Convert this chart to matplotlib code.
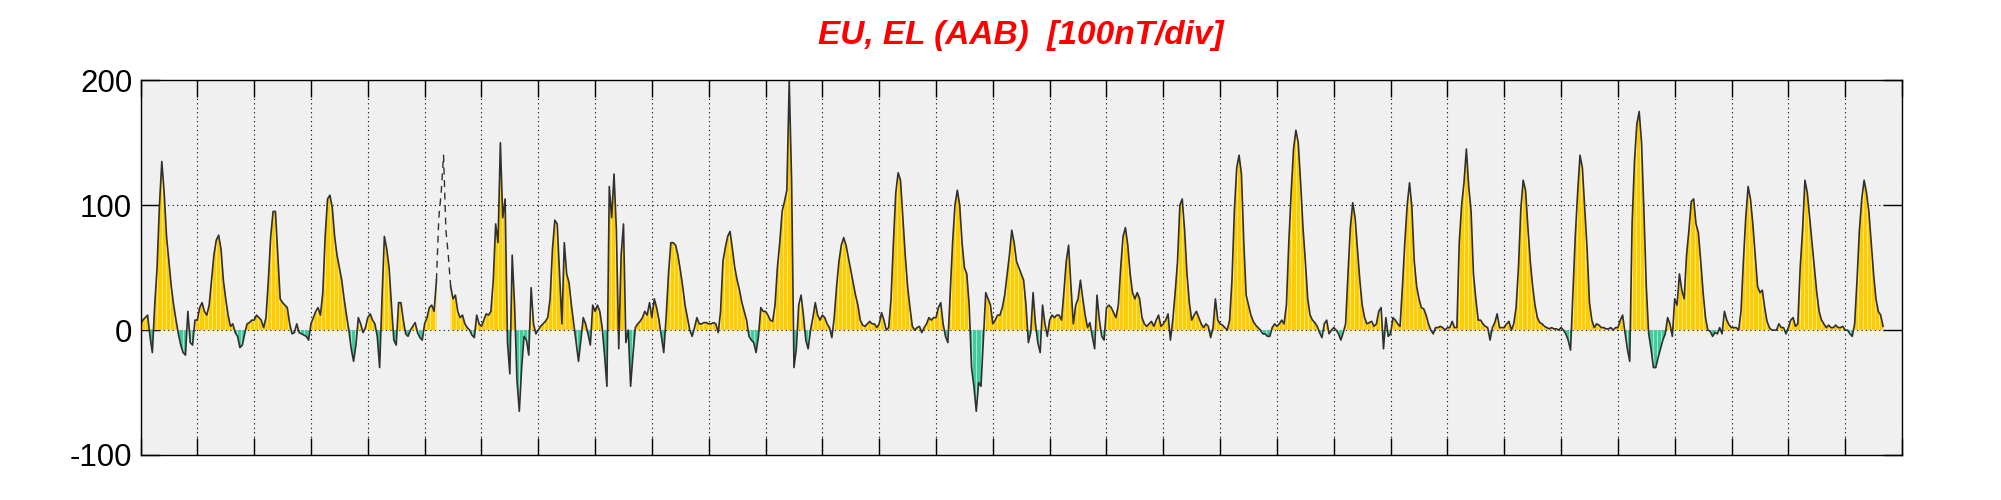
import numpy as np
import matplotlib
matplotlib.use('Agg')
import matplotlib.pyplot as plt
from matplotlib.path import Path

plt.rcParams['font.family'] = ['Liberation Sans', 'DejaVu Sans']

# ── hourly EU/EL values (nT), one list per day ──────────────────
d00 = [5, 8, 10, 12, -5, -18, 20, 50, 100, 135, 110, 75, 55, 35, 20, 8, -3, -12, -18, -20, 15, -10, -12, 8]
d01 = [8, 18, 22, 15, 12, 20, 40, 60, 72, 76, 65, 40, 25, 12, 3, 5, -2, -5, -14, -12, -3, 5, 6, 8]
d02 = [8, 12, 10, 8, 2, 10, 40, 75, 95, 95, 60, 25, 22, 20, 18, 5, -3, -2, 5, -2, -3, -4, -5, -8]
d03 = [5, 10, 15, 18, 12, 30, 75, 105, 108, 98, 75, 60, 50, 40, 25, 12, 0, -15, -25, -12, 10, 5, -2, 2]
d04 = [10, 13, 8, 5, -5, -30, 25, 75, 65, 50, 20, -8, -12, 22, 22, 8, -3, -5, 0, 3, 6, -2, -6, -8]
d05 = [5, 10, 18, 20, 15, 40, 90, 110, 140, 80, 60, 35, 25, 28, 15, 10, 12, 5, 2, 0, -4, -6, 12, 5]
d06 = [3, 8, 13, 12, 15, 40, 85, 70, 150, 90, 105, -10, -35, 60, 20, -40, -65, -30, -5, -8, -20, 34, 5, -3]
d07 = [0, 3, 5, 7, 10, 25, 65, 88, 85, 45, 5, 70, 45, 38, 20, 5, -10, -25, -8, 10, 5, -3, -12, 20]
d08 = [15, 20, 15, 2, -20, -45, 115, 90, 125, 80, -15, 60, 85, -10, 0, -45, -20, 2, 5, 7, 10, 15, 12, 22]
d09 = [10, 25, 18, 8, -5, -18, 10, 45, 70, 70, 68, 60, 48, 35, 20, 10, 0, -5, 2, 10, 5, 5, 6, 6]
d10 = [5, 5, 6, 5, -2, 15, 55, 66, 75, 79, 65, 50, 40, 32, 22, 15, 8, -5, -8, -10, -18, -5, 18, 15]
d11 = [15, 12, 8, 7, 20, 50, 70, 95, 103, 112, 200, 120, -30, -15, 20, 28, 12, -8, -15, 0, 10, 22, 12, 8]
d12 = [12, 10, 5, 2, -6, 10, 35, 55, 68, 74, 68, 58, 48, 38, 28, 20, 8, 4, 3, 5, 7, 5, 5, 2]
d13 = [5, 14, 8, 0, 2, 25, 70, 110, 126, 120, 90, 60, 35, 18, 3, 0, 2, 3, -2, 2, 5, 10, 8, 10]
d14 = [10, 18, 22, 5, -5, -10, 30, 70, 100, 112, 100, 70, 50, 45, 20, -30, -45, -65, -42, -45, -8, 30, 25, 20]
d15 = [5, 8, 12, 12, 18, 28, 44, 60, 80, 70, 55, 50, 45, 40, 20, -10, -2, 30, 5, -10, -18, 20, 5, -5]
d16 = [8, 12, 10, 12, 12, 8, 30, 55, 68, 35, 5, 20, 25, 40, 25, 12, 2, 6, -5, -15, 28, 8, -5, -8]
d17 = [18, 20, 18, 14, 10, 20, 50, 75, 82, 68, 45, 30, 25, 30, 25, 10, 5, 3, 5, 7, 3, 8, 12, 3]
d18 = [5, 8, 13, -8, 8, 30, 55, 100, 105, 80, 45, 22, 8, 12, 15, 10, 5, 2, 5, 3, -6, 2, 25, 8]
d19 = [5, 4, 2, 0, 8, 40, 95, 130, 140, 125, 70, 28, 20, 12, 7, 4, 2, 0, -3, -3, -5, -5, 2, 5]
d20 = [3, 5, 8, 5, 20, 70, 110, 145, 160, 150, 118, 82, 55, 25, 12, 8, 6, 3, -2, -6, 5, 8, -3, 0]
d21 = [2, 0, -3, -8, -2, 5, 45, 82, 102, 90, 65, 40, 20, 10, 5, 6, 7, 3, 5, 15, 18, -15, 10, -5]
d22 = [-3, 10, 8, 5, 3, 35, 70, 100, 118, 98, 55, 35, 25, 18, 17, 12, 5, 0, -3, 2, 2, 3, 2, 0]
d23 = [2, 2, 7, 2, 2, 70, 100, 118, 145, 115, 95, 45, 25, 8, 8, 5, 3, 2, -8, 2, 6, 13, 2, 2]
d24 = [2, 5, 7, 0, 5, 18, 50, 97, 120, 112, 82, 55, 35, 20, 10, 6, 5, 3, 2, 1, 2, 1, 1, 0]
d25 = [2, 0, -3, -8, -16, 30, 75, 110, 140, 130, 97, 65, 22, 8, 2, 5, 4, 2, 2, 1, 1, 2, 0, 2]
d26 = [2, 8, 12, -2, -15, -25, 85, 135, 165, 175, 150, 95, 35, -3, -15, -30, -30, -22, -15, -8, -3, 10, 5, -5]
d27 = [25, 20, 45, 32, 25, 60, 80, 103, 105, 85, 78, 55, 30, 10, 0, -1, -5, -2, -3, 2, -3, 15, 8, 4]
d28 = [2, 2, 2, 0, 15, 55, 90, 115, 105, 85, 60, 35, 30, 32, 18, 7, 2, 0, 0, 0, 5, 2, 2, -3]
d29 = [2, 8, 10, 3, 5, 50, 80, 120, 110, 90, 70, 50, 30, 15, 8, 5, 2, 4, 2, 2, 4, 2, 2, 3]
d30 = [0, 0, -3, -5, 5, 40, 80, 105, 120, 110, 95, 70, 45, 25, 15, 12, 3]

days = [d00, d01, d02, d03, d04, d05, d06, d07, d08, d09, d10, d11, d12, d13, d14, d15,
        d16, d17, d18, d19, d20, d21, d22, d23, d24, d25, d26, d27, d28, d29, d30]
gap_hours = [126, 127, 128, 129, 130]   # missing EU samples on day 5 (drawn dashed)
n_days = 31
y_ticks = [-100, 0, 100, 200]
title = "EU, EL (AAB)  [100nT/div]"

vals = np.array([v for d in days for v in d], dtype=float)
t = np.arange(len(vals)) / 24.0

solid = vals.copy()
solid[gap_hours] = np.nan
dashed = np.full_like(vals, np.nan)
dashed[gap_hours[0] - 1:gap_hours[-1] + 2] = vals[gap_hours[0] - 1:gap_hours[-1] + 2]

# ── figure ──────────────────────────────────────────────────────
fig = plt.figure(figsize=(20.01, 5.0), dpi=100)
ax = fig.add_axes([140.5/2001, 45/500, (1902-140.5)/2001, (455-80.3)/500])
ax.set_facecolor("#f0f0f0")

pos = ax.fill_between(t, solid, 0, where=solid >= 0, interpolate=True, color="#ffcc00", linewidth=0, zorder=2)
neg = ax.fill_between(t, solid, 0, where=solid <= 0, interpolate=True, color="#40cc9c", linewidth=0, zorder=2)

# thin light stripes through the filled areas (as in the original bar rendering)
stripes = ax.vlines(np.arange(0, n_days, 4.2/56.82), -100, 200, colors="white",
                    linewidth=0.5, alpha=0.75, zorder=2.5)
clip = Path.make_compound_path(*(list(pos.get_paths()) + list(neg.get_paths())))
stripes.set_clip_path(clip, ax.transData)

ax.plot(t, solid, color="#303030", linewidth=1.2, zorder=3)
ax.plot(t, dashed, color="#303030", linewidth=1.0, linestyle=(0, (5, 4)), zorder=3)

ax.set_xlim(0, n_days)
ax.set_ylim(-100, 200)
ax.set_xticks(np.arange(0, n_days + 1))
ax.set_xticklabels([])
ax.set_yticks(y_ticks)
ax.set_yticklabels([str(v) for v in y_ticks], fontsize=22.5)
ax.tick_params(axis="x", direction="in", length=12, width=1.0, top=True, bottom=True)
ax.tick_params(axis="y", direction="in", length=14, width=1.0, left=True, right=True, pad=6)
ax.grid(True, color="black", linestyle=(0, (1, 3)), linewidth=0.8, zorder=1)
ax.set_axisbelow(True)
for s in ax.spines.values():
    s.set_linewidth(1.0)
    s.set_zorder(4)

ax.set_title(title, color="red", fontsize=24, fontweight="bold", fontstyle="italic", pad=26)

fig.savefig("out.png", dpi=100)
